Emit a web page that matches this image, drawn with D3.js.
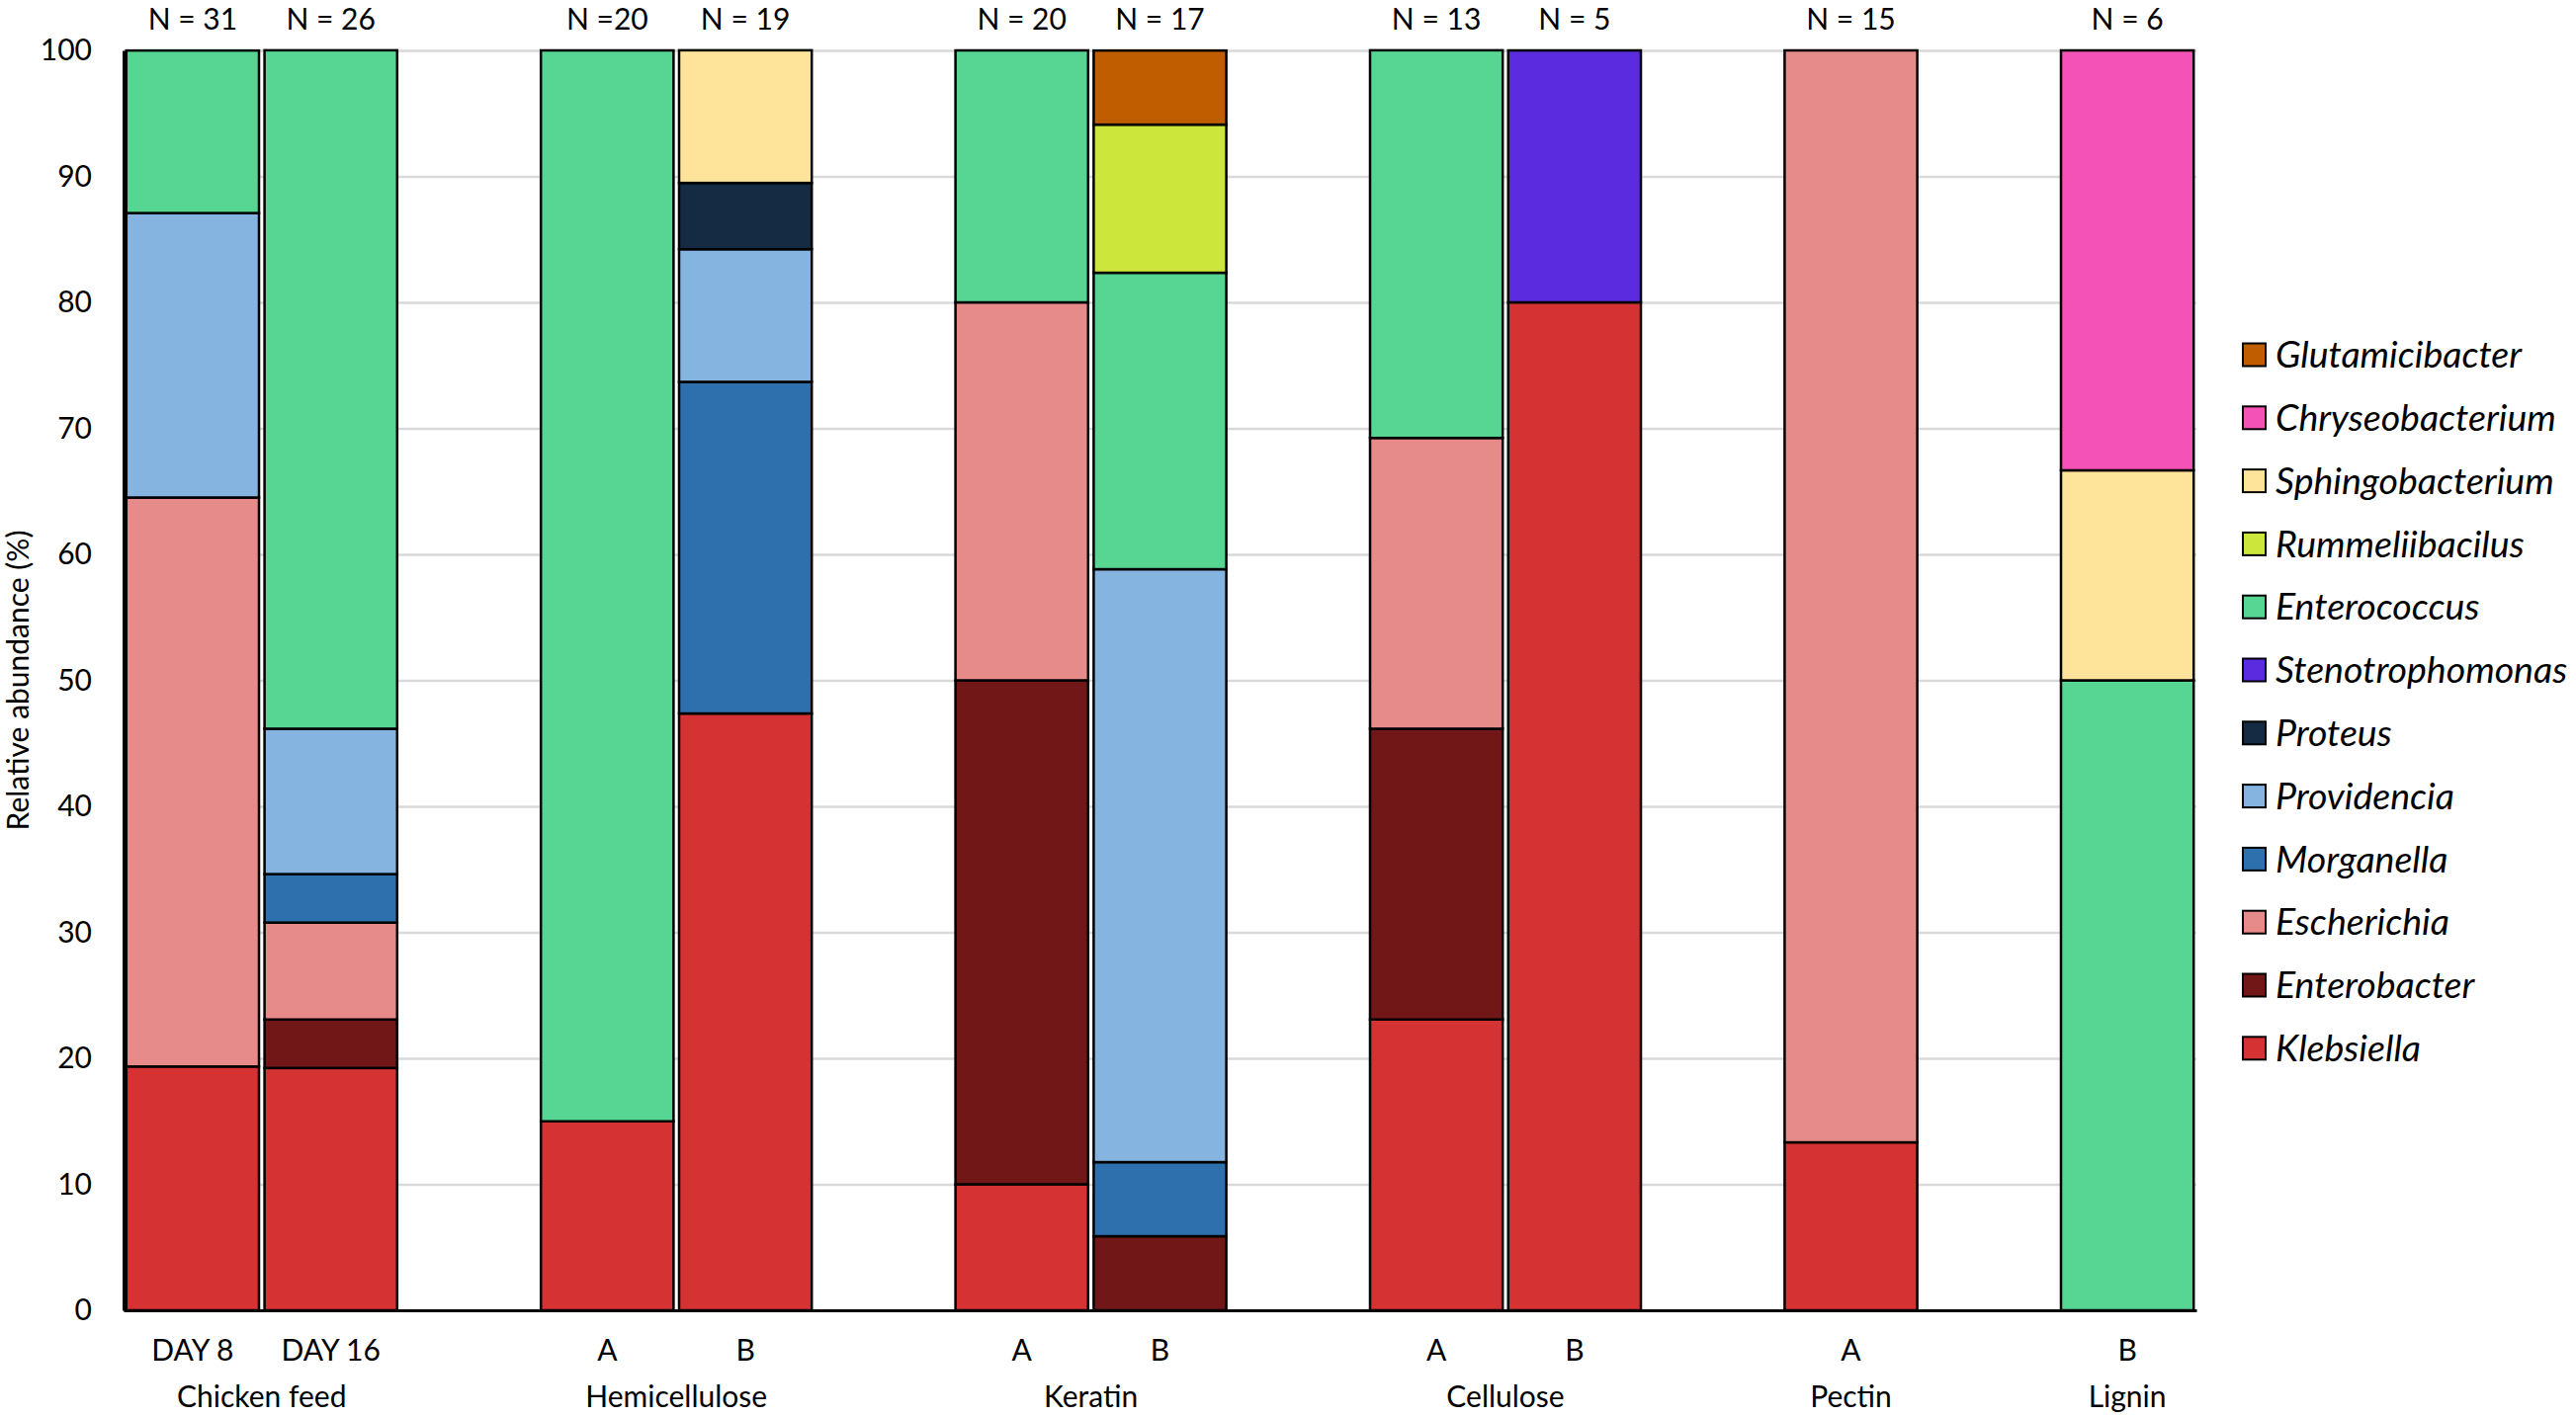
<!DOCTYPE html>
<html>
<head>
<meta charset="utf-8">
<script src="https://cdn.jsdelivr.net/npm/d3@7"></script>
<style>
  body { margin: 0; background: #fff; }
  text { font-family: Lato, "Open Sans", sans-serif; fill: #000; }
</style>
</head>
<body>
<svg id="drawing_region"></svg>
<script>
// slots along the x axis (empty slots give the gaps between groups)
const slots = ["D8", "D16", "g1", "HA", "HB", "g2", "KA", "KB", "g3", "CA", "CB", "g4", "PA", "g5", "LB"];
const bars = ["D8", "D16", "HA", "HB", "KA", "KB", "CA", "CB", "PA", "LB"];
const barLabels = ["DAY 8", "DAY 16", "A", "B", "A", "B", "A", "B", "A", "B"];
const nLabels = ["N = 31", "N = 26", "N =20", "N = 19", "N = 20", "N = 17", "N = 13", "N = 5", "N = 15", "N = 6"];
const groupNames = ["Chicken feed", "Hemicellulose", "Keratin", "Cellulose", "Pectin", "Lignin"];
const groupBars = [["D8", "D16"], ["HA", "HB"], ["KA", "KB"], ["CA", "CB"], ["PA"], ["LB"]];
const yTicks = [0, 10, 20, 30, 40, 50, 60, 70, 80, 90, 100];

// genera, bottom of the stack first
const genera = ["Klebsiella", "Enterobacter", "Escherichia", "Morganella", "Providencia", "Proteus",
                "Stenotrophomonas", "Enterococcus", "Rummeliibacilus", "Sphingobacterium",
                "Chryseobacterium", "Glutamicibacter"];
const colors = ["#d53234", "#711717", "#e78b8a", "#2e6fad", "#86b4e0", "#142b43",
                "#5b2be0", "#57d693", "#cde63c", "#fde49a", "#f452b6", "#bf5d00"];

// relative abundance (%) per bar, same order as `bars`
const klebsiella       = [19.35, 19.23, 15.0, 47.37, 10.0, 0, 23.08, 80.0, 13.33, 0];
const enterobacter     = [0, 3.85, 0, 0, 40.0, 5.88, 23.08, 0, 0, 0];
const escherichia      = [45.16, 7.69, 0, 0, 30.0, 0, 23.08, 0, 86.67, 0];
const morganella       = [0, 3.85, 0, 26.32, 0, 5.88, 0, 0, 0, 0];
const providencia      = [22.58, 11.54, 0, 10.53, 0, 47.06, 0, 0, 0, 0];
const proteus          = [0, 0, 0, 5.26, 0, 0, 0, 0, 0, 0];
const stenotrophomonas = [0, 0, 0, 0, 0, 0, 0, 20.0, 0, 0];
const enterococcus     = [12.90, 53.85, 85.0, 0, 20.0, 23.53, 30.77, 0, 0, 50.0];
const rummeliibacilus  = [0, 0, 0, 0, 0, 11.76, 0, 0, 0, 0];
const sphingobacterium = [0, 0, 0, 10.53, 0, 0, 0, 0, 0, 16.67];
const chryseobacterium = [0, 0, 0, 0, 0, 0, 0, 0, 0, 33.33];
const glutamicibacter  = [0, 0, 0, 0, 0, 5.88, 0, 0, 0, 0];

const series = [klebsiella, enterobacter, escherichia, morganella, providencia, proteus,
                stenotrophomonas, enterococcus, rummeliibacilus, sphingobacterium,
                chryseobacterium, glutamicibacter];

const table = bars.map((b, i) => {
    const row = { bar: b };
    genera.forEach((g, j) => row[g] = series[j][i]);
    return row;
});

const config = {
    width: 2606,
    height: 1434,
    margin: { top: 51, right: 384, bottom: 108, left: 125 }
};

const svg = d3.select("#drawing_region")
    .attr("width", config.width)
    .attr("height", config.height);

const inner_width = config.width - config.margin.left - config.margin.right;
const inner_height = config.height - config.margin.top - config.margin.bottom;

const chart = svg.append("g")
    .attr("transform", `translate(${config.margin.left}, ${config.margin.top})`);

const xscale = d3.scaleBand()
    .domain(slots)
    .range([0, inner_width])
    .paddingInner(0.04)
    .paddingOuter(0.02);

const yscale = d3.scaleLinear()
    .domain([0, 100])
    .range([inner_height, 0]);

const color = d3.scaleOrdinal().domain(genera).range(colors);

// grid lines
chart.append("g")
    .call(d3.axisLeft(yscale).tickValues(yTicks.slice(1)).tickSize(-inner_width).tickFormat(""))
    .call(g => g.select(".domain").remove())
    .selectAll("line")
    .attr("stroke", "#d9d9d9")
    .attr("stroke-width", 2.5);

// stacked bars
const stacked = d3.stack().keys(genera)(table);

chart.selectAll(".layer")
    .data(stacked)
    .enter()
    .append("g")
    .attr("fill", d => color(d.key))
    .selectAll("rect")
    .data(d => d.filter(s => s[1] - s[0] > 0))
    .enter()
    .append("rect")
    .attr("x", d => xscale(d.data.bar))
    .attr("y", d => yscale(d[1]))
    .attr("width", xscale.bandwidth())
    .attr("height", d => yscale(d[0]) - yscale(d[1]))
    .attr("stroke", "#000")
    .attr("stroke-width", 2.5);

// y axis
const yaxis_group = chart.append("g")
    .call(d3.axisLeft(yscale).tickValues(yTicks).tickSize(0).tickPadding(32));
yaxis_group.select(".domain").attr("stroke", "#000").attr("stroke-width", 3);
yaxis_group.selectAll("text")
    .attr("font-family", "Lato, sans-serif")
    .attr("font-size", 30);

// x axis (baseline + bar labels)
const xaxis_group = chart.append("g")
    .attr("transform", `translate(0, ${inner_height})`)
    .call(d3.axisBottom(xscale).tickSize(0).tickPadding(30)
        .tickFormat(d => bars.indexOf(d) >= 0 ? barLabels[bars.indexOf(d)] : ""));
xaxis_group.select(".domain").attr("stroke", "#000").attr("stroke-width", 3);
xaxis_group.selectAll("text")
    .attr("font-family", "Lato, sans-serif")
    .attr("font-size", 30);

// group labels
chart.selectAll(".group-label")
    .data(groupNames)
    .enter()
    .append("text")
    .attr("x", (d, i) => d3.mean(groupBars[i], b => xscale(b) + xscale.bandwidth() / 2))
    .attr("y", inner_height + 87)
    .attr("dy", "0.35em")
    .attr("text-anchor", "middle")
    .attr("font-size", 30)
    .text(d => d);

// N labels above the bars
chart.selectAll(".n-label")
    .data(bars)
    .enter()
    .append("text")
    .attr("x", d => xscale(d) + xscale.bandwidth() / 2)
    .attr("y", -21)
    .attr("text-anchor", "middle")
    .attr("font-size", 30)
    .text((d, i) => nLabels[i]);

// y label
svg.append("text")
    .attr("x", -(config.margin.top + inner_height / 2))
    .attr("y", 18)
    .attr("dy", "0.35em")
    .attr("transform", "rotate(-90)")
    .attr("text-anchor", "middle")
    .attr("font-size", 30)
    .text("Relative abundance (%)");

// legend, top entry is the top of the stack
const legend = svg.append("g")
    .attr("transform", "translate(2269, 359)");

const entries = legend.selectAll("g")
    .data(genera.slice().reverse())
    .enter()
    .append("g")
    .attr("transform", (d, i) => `translate(0, ${i * 63.8})`);

entries.append("rect")
    .attr("x", 0)
    .attr("y", -11.5)
    .attr("width", 23)
    .attr("height", 23)
    .attr("fill", d => color(d))
    .attr("stroke", "#000")
    .attr("stroke-width", 2);

entries.append("text")
    .attr("x", 33)
    .attr("y", 0)
    .attr("dy", "0.35em")
    .attr("font-size", 37.5)
    .attr("font-style", "italic")
    .text(d => d);
</script>
</body>
</html>
